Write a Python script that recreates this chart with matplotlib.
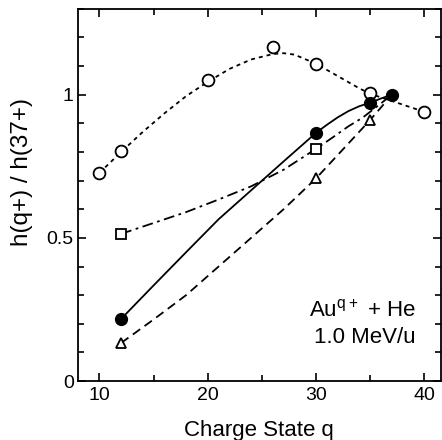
import matplotlib
matplotlib.use("Agg")
import matplotlib.pyplot as plt
from matplotlib.ticker import MultipleLocator

plt.rcParams['font.family'] = ['Liberation Sans', 'DejaVu Sans']

# open circles (dotted smooth curve)
q_open = [10, 12, 20, 26, 30, 35, 40]
h_open = [0.727, 0.804, 1.052, 1.168, 1.108, 1.005, 0.94]
q_curve_open = [10, 12, 14, 16, 18, 20, 22, 24, 26, 27, 28, 30, 32, 34, 35, 37, 40]
h_curve_open = [0.727, 0.80, 0.87, 0.935, 0.995, 1.045, 1.09, 1.123, 1.142, 1.145, 1.14, 1.108, 1.065, 1.022, 1.003, 0.978, 0.94]

# filled circles (solid)
q_fill = [12, 30, 35, 37]
h_fill = [0.217, 0.867, 0.972, 1.0]
q_curve_fill = [12, 15, 18, 21, 24, 27, 30, 31, 32, 33, 34, 35, 36, 37]
h_curve_fill = [0.217, 0.334, 0.45, 0.565, 0.666, 0.767, 0.867, 0.895, 0.921, 0.943, 0.96, 0.972, 0.987, 1.0]

# squares (dash-dot)
q_sq = [12, 30]
h_sq = [0.514, 0.811]
q_curve_sq = [12, 15, 18, 21, 24, 27, 30, 31.5, 33, 34.3, 36, 37]
h_curve_sq = [0.514, 0.552, 0.590, 0.634, 0.68, 0.738, 0.811, 0.85, 0.89, 0.92, 0.97, 1.0]

# triangles (dashed)
q_tri = [12, 30, 35]
h_tri = [0.133, 0.708, 0.912]
q_curve_tri = [12, 15, 18, 21, 24, 27, 30, 35, 37]
h_curve_tri = [0.133, 0.215, 0.30, 0.40, 0.50, 0.60, 0.708, 0.912, 1.0]

fig = plt.figure(figsize=(4.42, 4.40), dpi=100)
ax = fig.add_axes([0.176, 0.134, 0.821, 0.846])

lw = 1.3
ax.plot(q_curve_open, h_curve_open, color='black', lw=lw, ls=(0, (2.2, 2.2)))
ax.plot(q_open, h_open, 'o', mfc='white', mec='black', mew=1.3, ms=8.5)
ax.plot(q_curve_sq, h_curve_sq, color='black', lw=lw, ls=(0, (6, 2.5, 1.5, 2.5)))
ax.plot(q_sq, h_sq, 's', mfc='white', mec='black', mew=1.3, ms=7.5)
ax.plot(q_curve_tri, h_curve_tri, color='black', lw=lw, ls=(0, (5, 3)))
ax.plot(q_tri, h_tri, '^', mfc='white', mec='black', mew=1.3, ms=7.5)
ax.plot(q_curve_fill, h_curve_fill, color='black', lw=lw, ls='-')
ax.plot(q_fill, h_fill, 'o', mfc='black', mec='black', ms=8.5)

ax.set_xlim(8, 41.5)
ax.set_ylim(0, 1.3)
ax.xaxis.set_major_locator(MultipleLocator(10))
ax.xaxis.set_minor_locator(MultipleLocator(5))
ax.yaxis.set_minor_locator(MultipleLocator(0.1))
ax.set_yticks([0, 0.5, 1])
ax.set_yticklabels(['0', '0.5', '1'])
ax.tick_params(which='both', direction='in', top=True, right=True, labelsize=14, width=1.2)
ax.tick_params(which='major', length=6, pad=4)
ax.tick_params(axis='y', which='major', pad=3)
ax.tick_params(which='minor', length=4)
for s in ax.spines.values():
    s.set_linewidth(1.3)

ax.set_xlabel('Charge State q', fontsize=16, labelpad=12)
ax.set_ylabel('h(q+) / h(37+)', fontsize=17.5)
ax.yaxis.set_label_coords(-0.124, 0.562)

ax.text(39.2, 0.224, r'Au$^{\mathregular{q+}}$ + He', fontsize=16, ha='right', va='baseline')
ax.text(39.2, 0.133, '1.0 MeV/u', fontsize=16, ha='right', va='baseline')

fig.savefig('out.png', dpi=100)
